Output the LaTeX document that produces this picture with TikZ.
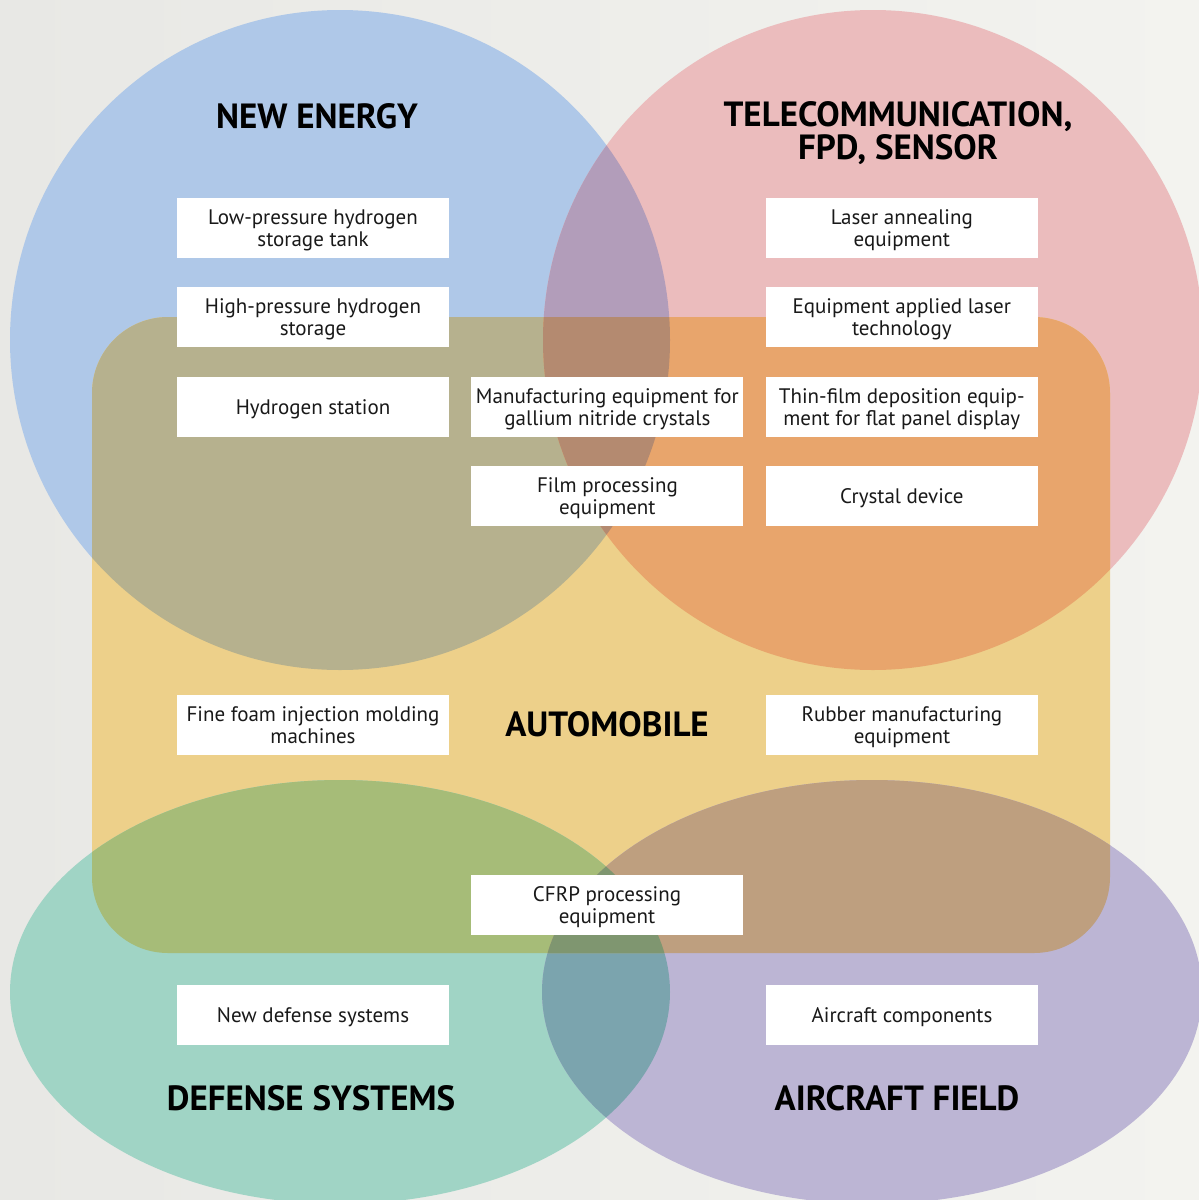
\documentclass[tikz,border=0pt]{standalone}
\usepackage{fontspec}
\setmainfont{PT Sans}
\usetikzlibrary{positioning}

\definecolor{bgleft}{HTML}{E8E8E5}
\definecolor{bgright}{HTML}{F3F3EF}
\definecolor{energyblue}{HTML}{AFC8E8}
\definecolor{telecomred}{HTML}{EBBCBD}
\definecolor{autoyellow}{HTML}{EDD08A}
\definecolor{defensegreen}{HTML}{A0D4C5}
\definecolor{aircraftlilac}{HTML}{BCB5D4}
\definecolor{mixbr}{HTML}{B29DBA}   % blue + red
\definecolor{mixby}{HTML}{B6B18E}   % blue + yellow
\definecolor{mixry}{HTML}{E8A56C}   % red + yellow
\definecolor{mixbry}{HTML}{B48A70}  % blue + red + yellow
\definecolor{mixgl}{HTML}{7BA4AE}   % green + lilac
\definecolor{mixgy}{HTML}{A6BC78}   % green + yellow
\definecolor{mixly}{HTML}{BE9F7F}   % lilac + yellow
\definecolor{mixgly}{HTML}{7F9670}  % green + lilac + yellow

% the five fields
\def\setenergy{(340,340) circle [radius=330]}
\def\settelecom{(873,340) circle [radius=330]}
\def\setauto{[rounded corners=76pt] (92,317) rectangle (1110,953)}
\def\setdefense{(340,992) ellipse [x radius=330, y radius=212]}
\def\setaircraft{(872,992) ellipse [x radius=330, y radius=212]}

\begin{document}
\begin{tikzpicture}[x=1pt, y=-1pt, node distance=29pt and 22pt,
	item/.style={
		% white label box
		rectangle,
		fill=white,
		minimum width=272pt,
		minimum height=60pt,
		inner sep=0pt,
		align=center,
		text depth=0pt,
		text=black!90,
		font=\fontsize{21}{22}\selectfont
		},
	field/.style={
		% field title
		align=center,
		inner sep=0pt,
		text=black,
		font=\fontsize{35}{33}\selectfont\bfseries
		}]

	% background
	\shade[left color=bgleft, right color=bgright] (0,0) rectangle (1199,1200);
	\useasboundingbox (0,0) rectangle (1199,1200);

	% top circles
	\fill[energyblue] \setenergy;
	\fill[telecomred] \settelecom;
	\begin{scope}
		\clip \setenergy;
		\fill[mixbr] \settelecom;
	\end{scope}

	% automobile box
	\fill[autoyellow] \setauto;
	\begin{scope}
		\clip \setauto;
		\fill[mixby] \setenergy;
		\fill[mixry] \settelecom;
		\clip \setenergy;
		\fill[mixbry] \settelecom;
	\end{scope}

	% bottom ellipses
	\fill[defensegreen] \setdefense;
	\fill[aircraftlilac] \setaircraft;
	\begin{scope}
		\clip \setdefense;
		\fill[mixgl] \setaircraft;
	\end{scope}
	\begin{scope}
		\clip \setauto;
		\fill[mixgy] \setdefense;
		\fill[mixly] \setaircraft;
		\clip \setdefense;
		\fill[mixgly] \setaircraft;
	\end{scope}

	% titles
	\node (energy) [field] at (317,116) {NEW ENERGY};
	\node (telecom) [field] at (898,133) {TELECOMMUNICATION,\\FPD, SENSOR};
	\node (auto) [field] at (607,724) {AUTOMOBILE};
	\node (defense) [field] at (311,1098) {DEFENSE SYSTEMS};
	\node (aircraft) [field] at (897,1098) {AIRCRAFT FIELD};

	% left column
	\node (lowh) [item] at (313,228) {Low-pressure hydrogen\\storage tank};
	\node (highh) [item,below=of lowh] {High-pressure hydrogen\\storage};
	\node (station) [item,below=of highh] {Hydrogen station};
	% middle column
	\node (gan) [item,right=of station] {Manufacturing equipment for\\gallium nitride crystals};
	\node (film) [item,below=of gan] {Film processing\\equipment};
	% right column
	\node (annealing) [item,right=of gan] {Thin-film deposition equip-\\ment for flat panel display};
	\node (crystal) [item,below=of annealing] {Crystal device};
	\node (laserapp) [item,above=of annealing] {Equipment applied laser\\technology};
	\node (laser) [item,above=of laserapp] {Laser annealing\\equipment};

	% lower boxes
	\node (foam) [item] at (313,725) {Fine foam injection molding\\machines};
	\node (rubber) [item] at (902,725) {Rubber manufacturing\\equipment};
	\node (cfrp) [item] at (607,905) {CFRP processing\\equipment};
	\node (newdef) [item] at (313,1015) {New defense systems};
	\node (parts) [item] at (902,1015) {Aircraft components};

\end{tikzpicture}
\end{document}
